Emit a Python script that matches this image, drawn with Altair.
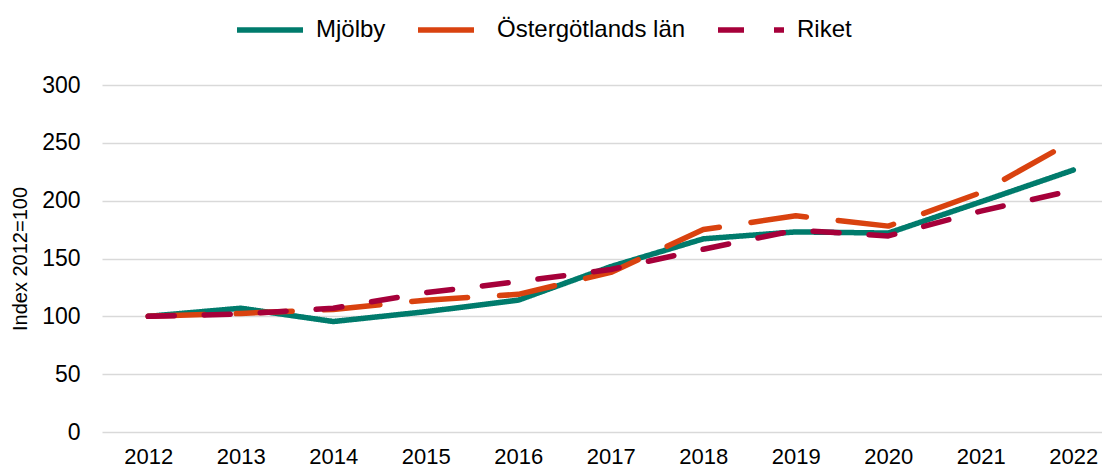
import altair as alt
import pandas as pd

years = list(range(2012, 2023))
mjolby = [100, 107, 95.5, 104, 114, 143, 167, 173, 172, 199, 226.5]
ostergotland = [100, 102.5, 106, 114, 119, 138, 175, 187, 178, 207, 252]
riket = [100, 102, 107, 120.5, 130, 140.5, 158, 174.5, 169.5, 191, 209]

series_names = ["Mjölby", "Östergötlands län", "Riket"]
series_colors = ["#007B6C", "#D9420F", "#A6003A"]
series_dashes = [[1, 0], [56, 32], [26, 30]]
y_ticks = [0, 50, 100, 150, 200, 250, 300]

rows = []
for name, vals in zip(series_names, [mjolby, ostergotland, riket]):
    for yr, v in zip(years, vals):
        rows.append({"År": yr, "Index": v, "Serie": name})
df = pd.DataFrame(rows)

FONT = "Liberation Sans"

chart = (
    alt.Chart(df)
    .mark_line(strokeWidth=5.5, strokeCap="round", strokeJoin="round")
    .encode(
        x=alt.X(
            "År:Q",
            scale=alt.Scale(domain=[2011.5, 2022.31], nice=False, zero=False),
            axis=alt.Axis(
                values=years,
                format="d",
                title=None,
                grid=False,
                ticks=False,
                domain=False,
                labelFontSize=22,
                labelPadding=14,
                labelFont=FONT,
                labelColor="#000000",
            ),
        ),
        y=alt.Y(
            "Index:Q",
            scale=alt.Scale(domain=[0, 300], nice=False),
            axis=alt.Axis(
                values=y_ticks,
                title="Index 2012=100",
                titleFontSize=20,
                titleFontWeight="normal",
                titleFont=FONT,
                titleColor="#000000",
                titlePadding=11,
                grid=True,
                gridColor="#D9D9D9",
                gridWidth=1.5,
                ticks=False,
                domain=False,
                labelFontSize=23,
                labelPadding=22,
                labelFont=FONT,
                labelColor="#000000",
            ),
        ),
        color=alt.Color(
            "Serie:N",
            scale=alt.Scale(domain=series_names, range=series_colors),
            legend=alt.Legend(
                title=None,
                orient="none",
                legendX=132,
                legendY=-91,
                direction="horizontal",
                symbolType="stroke",
                symbolSize=4356,
                symbolStrokeWidth=5.5,
                labelFontSize=24,
                labelFont=FONT,
                labelColor="#000000",
                labelOffset=10,
                labelLimit=400,
                columnPadding=21,
            ),
        ),
        strokeDash=alt.StrokeDash(
            "Serie:N",
            scale=alt.Scale(domain=series_names, range=series_dashes),
            legend=None,
        ),
        order=alt.Order("År:Q"),
    )
    .properties(
        width=1000,
        height=347,
        padding={"left": 94, "top": 77, "right": 0, "bottom": 38},
        autosize=alt.AutoSizeParams(type="none"),
    )
    .configure_view(stroke=None)
)

chart.save("out.html", embed_options={"renderer": "svg", "actions": False})
